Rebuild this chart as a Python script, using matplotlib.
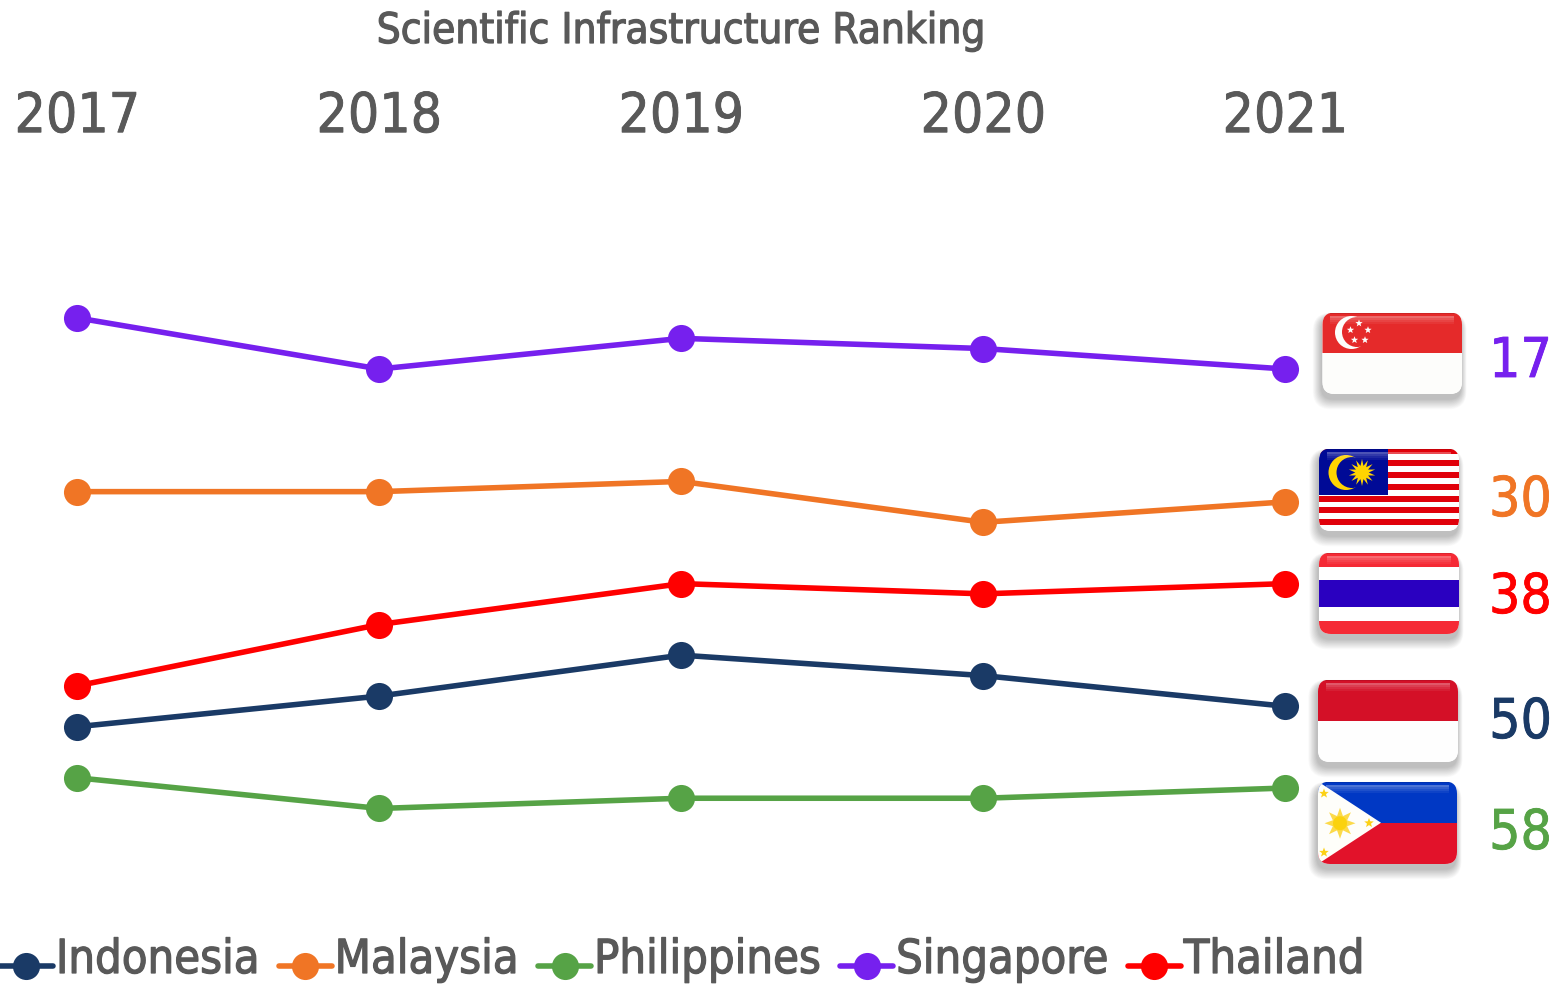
import numpy as np
import matplotlib
matplotlib.use("Agg")
import matplotlib.pyplot as plt
import matplotlib.patheffects as pe
from matplotlib.patches import FancyBboxPatch, Rectangle, Polygon, Circle

years = [2017, 2018, 2019, 2020, 2021]
indonesia = [52, 49, 45, 47, 50]
malaysia = [29, 29, 28, 32, 30]
philippines = [57, 60, 59, 59, 58]
singapore = [12, 17, 14, 15, 17]
thailand = [48, 42, 38, 39, 38]
names = ["Indonesia", "Malaysia", "Philippines", "Singapore", "Thailand"]
series = [indonesia, malaysia, philippines, singapore, thailand]
colors = ["#1A3A66", "#F07525", "#56A346", "#7620EE", "#FF0000"]
title = "Scientific Infrastructure Ranking"
GREY = "#595959"
FONT = dict(family="DejaVu Sans", stretch="condensed")


def thick(w, c=GREY):
    return [pe.withStroke(linewidth=w, foreground=c)]


W, H = 1557, 985
fig = plt.figure(figsize=(W / 100, H / 100), dpi=100)
top, bot = 150, 900
ax = fig.add_axes([0, 1 - bot / H, 1, (bot - top) / H])
ppy, y0r, y0p = 10.22, 17, 369
ax.set_xlim(2017 - 77.3 / 302, 2017 + (W - 77.3) / 302)
ax.set_ylim(y0r + (bot - y0p) / ppy, y0r + (top - y0p) / ppy)
for n, s, c in zip(names, series, colors):
    ax.plot(years, s, color=c, lw=4.0, marker="o", ms=19.5, mew=0, label=n,
            clip_on=False, solid_capstyle="round")
for sp in ax.spines.values():
    sp.set_visible(False)
ax.set_yticks([])
ax.set_xticks(years)
ax.set_xticklabels([str(y) for y in years], fontsize=39.5, color=GREY, **FONT)
ax.xaxis.tick_top()
ax.tick_params(axis="x", length=0, pad=4.2)
for t in ax.get_xticklabels():
    t.set_path_effects(thick(0.6))

fig.text(681 / W, 1 - 31 / H, title, ha="center", va="center", fontsize=30.3,
         color=GREY, path_effects=thick(0.9), **FONT)

leg = ax.legend(loc="lower left", bbox_to_anchor=(0 / W, 1 - 983 / H), bbox_transform=fig.transFigure,
                ncol=5, frameon=False, handlelength=1.13, handletextpad=0.065,
                columnspacing=0.42, borderpad=0, borderaxespad=0,
                prop=dict(size=33.7, **FONT))
for t in leg.get_texts():
    t.set_color(GREY)
    t.set_path_effects(thick(0.9))
for h in leg.legend_handles:
    h.set_ydata(np.asarray(h.get_ydata()) - 6.5)

ov = fig.add_axes([0, 0, 1, 1], zorder=3)
ov.set_xlim(0, W)
ov.set_ylim(H, 0)
ov.axis("off")
ov.patch.set_alpha(0)


def star(cx, cy, r, n=5, inner=0.42, rot=-90):
    a = np.deg2rad(rot + np.arange(2 * n) * 180 / n)
    rr = np.where(np.arange(2 * n) % 2 == 0, r, r * inner)
    return np.c_[cx + rr * np.cos(a), cy + rr * np.sin(a)]


def flag(x0, y0, w, h, draw):
    rad = 12
    for i in range(16, 0, -1):
        ov.add_patch(FancyBboxPatch((x0 - 1 - i * .55, y0 + 5 - i * .3), w + i * .9, h + i * .95,
                                    boxstyle=f"round,pad=0,rounding_size={rad + i * .4}",
                                    fc="#000000", ec="none", alpha=0.017, zorder=1))
    clip = FancyBboxPatch((x0, y0), w, h, boxstyle=f"round,pad=0,rounding_size={rad}",
                          fc="white", ec="none", zorder=2)
    ov.add_patch(clip)

    def add(p):
        p.set_clip_path(clip)
        p.set_zorder(3)
        ov.add_patch(p)

    draw(add, x0, y0, w, h)
    for i, a in enumerate([0.30, 0.20, 0.12, 0.06]):
        add(Rectangle((x0 + 8, y0 + 3 + i * 2), w - 16, 2, fc="white", ec="none", alpha=a))
    add(Rectangle((x0, y0), w, 1.5, fc="black", ec="none", alpha=0.10))


def band(add, x, y, w, h, c):
    add(Rectangle((x, y), w, h, fc=c, ec="none"))


def sg(add, x, y, w, h):
    band(add, x, y, w, h, "#FDFDFB")
    band(add, x, y, w, h / 2, "#E52A2A")
    add(Circle((x + 29, y + 20), 16.5, fc="#FDFDFB", ec="none"))
    add(Circle((x + 34.5, y + 19.5), 15, fc="#E52A2A", ec="none"))
    for dx, dy in [(36.5, 10.8), (28, 17.5), (45.5, 17.5), (32, 27.5), (42.5, 27.5)]:
        add(Polygon(star(x + dx, y + dy, 3.8), fc="#FDFDFB", ec="none"))


def my(add, x, y, w, h):
    band(add, x, y, w, h, "#FEFEFE")
    sh = h / 14
    for i in range(0, 14, 2):
        band(add, x, y + i * sh, w, sh, "#E0000A")
    band(add, x, y, 69, 8 * sh - 1, "#000A96")
    add(Circle((x + 27, y + 24), 17.5, fc="#FFD400", ec="none"))
    add(Circle((x + 33, y + 24), 15.5, fc="#000A96", ec="none"))
    add(Polygon(star(x + 43, y + 24, 13.5, n=14, inner=0.5), fc="#FFD400", ec="none"))


def th(add, x, y, w, h):
    band(add, x, y, w, h, "#F52A35")
    band(add, x, y + 14, w, 54, "#FFFFFF")
    band(add, x, y + 27.5, w, 27, "#2A00C0")


def idn(add, x, y, w, h):
    band(add, x, y, w, h, "#FEFEFE")
    band(add, x, y, w, h / 2, "#D41027")


def ph(add, x, y, w, h):
    band(add, x, y, w, h / 2, "#0038C4")
    band(add, x, y + h / 2, w, h / 2, "#E2122A")
    add(Polygon([[x, y], [x + 63, y + h / 2], [x, y + h]], fc="#FEFEFA", ec="none"))
    sx, sy = x + 22, y + h / 2 + 0.5
    add(Polygon(star(sx, sy, 15.5, n=8, inner=0.5, rot=0), fc="#FCDA4A", ec="none"))
    add(Circle((sx, sy), 7, fc="#FBD20E", ec="none"))
    for dx, dy in [(6, 12), (6, 71), (51, 41.5)]:
        add(Polygon(star(x + dx, y + dy, 5), fc="#FCD116", ec="none"))


flag(1322.5, 312.5, 139.5, 81.5, sg)
flag(1319, 448.5, 140, 82.5, my)
flag(1319, 552.5, 140, 81.5, th)
flag(1318, 679.5, 140, 82.5, idn)
flag(1318, 781.5, 139, 82.5, ph)

label_pos = {"Singapore": 362, "Malaysia": 501, "Thailand": 598, "Indonesia": 723, "Philippines": 834}
for n, s, c in zip(names, series, colors):
    ov.text(1520.5, label_pos[n], str(s[-1]), color=c, ha="center", va="center", fontsize=39.5,
            path_effects=thick(0.6, c), **FONT)

fig.savefig("out.png", dpi=100)
